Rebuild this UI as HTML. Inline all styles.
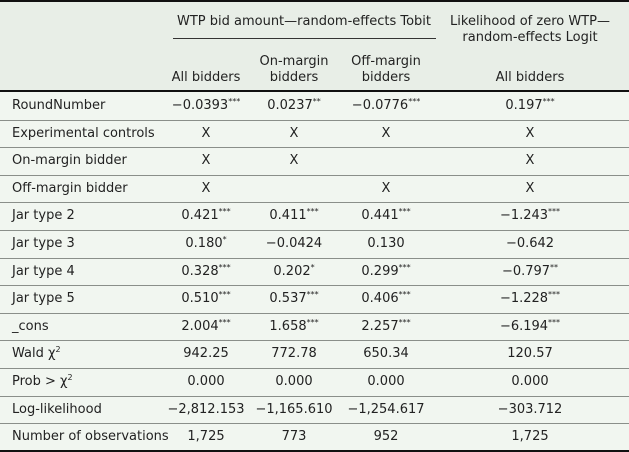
<!DOCTYPE html>
<html><head><meta charset="utf-8"><style>
body{margin:0;width:629px;height:452px;overflow:hidden;background:#f1f6f0;font-family:"DejaVu Sans","Liberation Sans",sans-serif;font-size:13px;color:#222}
.abs{position:absolute;white-space:nowrap}
#hdr{position:absolute;left:0;top:0;width:629px;height:91px;background:#e8eee7;border-top:2px solid #111;box-sizing:border-box}
.c{transform:translateX(-50%);text-align:center;line-height:16px}
.line{position:absolute;left:0;width:629px;height:1px;background:#8a8f8a}
sup{font-size:8px;vertical-align:baseline;position:relative;top:-5px;line-height:0}
</style></head><body>
<div id="hdr"></div>
<div class="abs c" style="left:304px;top:14px">WTP bid amount—random-effects Tobit</div>
<div class="abs" style="left:173px;top:38px;width:263px;height:1px;background:#333"></div>
<div class="abs c" style="left:530px;top:14px">Likelihood of zero WTP—<br>random-effects Logit</div>
<div class="abs c" style="left:206px;top:70px">All bidders</div>
<div class="abs c" style="left:294px;top:54px">On-margin<br>bidders</div>
<div class="abs c" style="left:386px;top:54px">Off-margin<br>bidders</div>
<div class="abs c" style="left:530px;top:70px">All bidders</div>
<div class="abs" style="left:0;top:90px;width:629px;height:2px;background:#111"></div>
<div class="abs" style="left:0;top:450px;width:629px;height:2px;background:#111"></div>
<div id="rows"></div>
<script>
const labels=["RoundNumber","Experimental controls","On-margin bidder","Off-margin bidder","Jar type 2","Jar type 3","Jar type 4","Jar type 5","_cons","Wald χ<sup>2</sup>","Prob > χ<sup>2</sup>","Log-likelihood","Number of observations"];
const colAll=["−0.0393<sup>***</sup>","X","X","X","0.421<sup>***</sup>","0.180<sup>*</sup>","0.328<sup>***</sup>","0.510<sup>***</sup>","2.004<sup>***</sup>","942.25","0.000","−2,812.153","1,725"];
const colOn=["0.0237<sup>**</sup>","X","X","","0.411<sup>***</sup>","−0.0424","0.202<sup>*</sup>","0.537<sup>***</sup>","1.658<sup>***</sup>","772.78","0.000","−1,165.610","773"];
const colOff=["−0.0776<sup>***</sup>","X","","X","0.441<sup>***</sup>","0.130","0.299<sup>***</sup>","0.406<sup>***</sup>","2.257<sup>***</sup>","650.34","0.000","−1,254.617","952"];
const colLogit=["0.197<sup>***</sup>","X","X","X","−1.243<sup>***</sup>","−0.642","−0.797<sup>**</sup>","−1.228<sup>***</sup>","−6.194<sup>***</sup>","120.57","0.000","−303.712","1,725"];
const cols=[colAll,colOn,colOff,colLogit];
const cx=[206,294,386,530];
const top0=92,rh=27.6;
const root=document.getElementById('rows');
labels.forEach((l,i)=>{
  const y=top0+i*rh;
  const lab=document.createElement('div');
  lab.className='abs';lab.style.left='12px';lab.style.top=(y+6)+'px';lab.style.lineHeight='16px';
  lab.innerHTML=l;
  
  
  root.appendChild(lab);
  cols.forEach((c,j)=>{
    const d=document.createElement('div');
    d.className='abs c';d.style.left=cx[j]+'px';d.style.top=(y+6)+'px';
    d.innerHTML=c[i];
    
    
    root.appendChild(d);
  });
  if(i>0){
    const ln=document.createElement('div');
    ln.className='line';ln.style.top=Math.round(y)+'px';
    
    
    root.appendChild(ln);
  }
});
</script>
</body></html>
